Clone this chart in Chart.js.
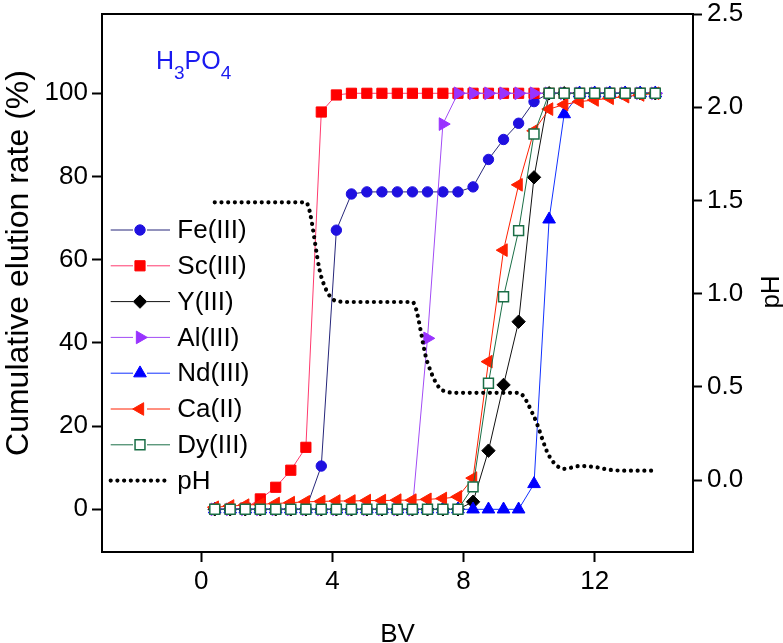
<!DOCTYPE html>
<html><head><meta charset="utf-8">
<script src="https://cdn.jsdelivr.net/npm/chart.js@4/dist/chart.umd.min.js"></script>
<style>html,body{margin:0;padding:0;background:#fff;}canvas{display:block;}</style>
</head><body>
<canvas id="c" width="783" height="643"></canvas>
<script>
// ---- data ----
const bv = [0.41, 0.88, 1.34, 1.80, 2.27, 2.73, 3.19, 3.66, 4.12, 4.58, 5.05, 5.51, 5.98, 6.44, 6.90,
            7.37, 7.83, 8.29, 8.76, 9.22, 9.68, 10.15, 10.61, 11.07, 11.54, 12.00, 12.46, 12.93, 13.39, 13.85];
const feIII = [0, 0, 0, 0, 0, 0, 0, 10.4, 67.1, 75.8, 76.3, 76.3, 76.3, 76.3, 76.3,
               76.3, 76.3, 77.5, 84.1, 88.9, 92.8, 98.0, 100, 100, 100, 100, 100, 100, 100, 100];
const scIII = [0, 0, 0.3, 2.5, 5.3, 9.4, 14.9, 95.5, 99.6, 100, 100, 100, 100, 100, 100,
               100, 100, 100, 100, 100, 100, 100, 100, 100, 100, 100, 100, 100, 100, 100];
const yIII  = [0, 0, 0, 0, 0, 0, 0, 0, 0, 0, 0, 0, 0, 0, 0,
               0, 0, 1.8, 14.1, 29.9, 45.1, 79.8, 100, 100, 100, 100, 100, 100, 100, 100];
const alIII = [0, 0, 0, 0, 0, 0, 0, 0, 0, 0, 0, 0, 0, 0, 41.1,
               92.6, 100, 100, 100, 100, 100, 100, 100, 100, 100, 100, 100, 100, 100, 100];
const ndIII = [0, 0, 0, 0, 0, 0, 0, 0, 0, 0, 0, 0, 0, 0, 0,
               0, 0, 0, 0, 0, 0, 6.1, 69.7, 95.0, 100, 100, 100, 100, 100, 100];
const caII  = [0.5, 0.8, 1.0, 1.2, 1.4, 1.6, 1.8, 1.9, 2.0, 2.0, 2.1, 2.1, 2.2, 2.2, 2.4,
               2.6, 3.0, 7.5, 35.5, 62.3, 78.0, 91.0, 96.2, 97.3, 98.0, 98.4, 98.8, 99.2, 99.6, 100];
const dyIII = [0, 0, 0, 0, 0, 0, 0, 0, 0, 0, 0, 0, 0, 0, 0,
               0, 0, 5.4, 30.3, 51.1, 67.0, 90.2, 100, 100, 100, 100, 100, 100, 100, 100];
const pH    = [1.49, 1.49, 1.49, 1.49, 1.49, 1.49, 1.49, 1.09, 0.96, 0.955, 0.955, 0.955, 0.955, 0.955, 0.63,
               0.48, 0.468, 0.468, 0.468, 0.468, 0.468, 0.34, 0.13, 0.06, 0.075, 0.07, 0.055, 0.05, 0.05, 0.05];
const bvTicks = [0, 4, 8, 12];
const rateTicks = [0, 20, 40, 60, 80, 100];
const pHTicks = [0.0, 0.5, 1.0, 1.5, 2.0, 2.5];
const seriesLabels = ['Fe(III)', 'Sc(III)', 'Y(III)', 'Al(III)', 'Nd(III)', 'Ca(II)', 'Dy(III)', 'pH'];

const FONT = "'Liberation Sans', Arial, sans-serif";
const pts = vals => vals.map((v, i) => ({x: bv[i], y: v}));

function metal(label, vals, mark, line, style, radius, rotation, fill, order) {
  return {
    label, data: pts(vals), yAxisID: 'y', order,
    borderColor: line, borderWidth: 1, tension: 0,
    pointStyle: style, pointRadius: radius, pointRotation: rotation,
    pointBackgroundColor: fill || mark, pointBorderColor: mark, pointBorderWidth: fill ? 1.5 : 1,
    pointHoverRadius: radius
  };
}

const datasets = [
  metal(seriesLabels[0], feIII, '#1f10e0', '#26267a', 'circle', 5.2, 0, null, 7),
  metal(seriesLabels[1], scIII, '#ff0000', '#ff3a6e', 'rect', 7.2, 0, null, 6),
  metal(seriesLabels[2], yIII,  '#000000', '#111111', 'rectRot', 6.7, 0, null, 5),
  metal(seriesLabels[3], alIII, '#9933ff', '#a24cf5', 'triangle', 7.3, 90, null, 4),
  metal(seriesLabels[4], ndIII, '#0000ff', '#1030ff', 'triangle', 7.3, 0, null, 3),
  metal(seriesLabels[5], caII,  '#ff2000', '#ff2000', 'triangle', 7.3, -90, null, 2),
  metal(seriesLabels[6], dyIII, '#1a6e46', '#1a6e46', 'rect', 7.0, 0, '#ffffff', 1),
  {
    label: seriesLabels[7], data: pts(pH), yAxisID: 'y2', order: 0,
    borderColor: '#000', borderWidth: 4.2, borderDash: [0.01, 6.7], borderCapStyle: 'round',
    cubicInterpolationMode: 'monotone', pointRadius: 0, pointHoverRadius: 0
  }
];

const tickGrid = (len) => ({display: true, drawOnChartArea: false, drawTicks: true, tickLength: len, tickWidth: 2, tickColor: '#000', color: '#000'});
const noPad = s => { s.paddingTop = 0; s.paddingBottom = 0; s.paddingLeft = 0; s.paddingRight = 0; };

const deco = {
  id: 'deco',
  beforeDatasetsDraw(chart) {
    const {ctx, chartArea: a} = chart;
    ctx.save();
    ctx.strokeStyle = '#000'; ctx.lineWidth = 2;
    ctx.strokeRect(a.left, a.top, a.right - a.left, a.bottom - a.top);
    ctx.restore();
  },
  afterDraw(chart) {
    const {ctx, chartArea: a} = chart;
    ctx.save();
    // legend
    const x0 = a.left + 8.7, mx = a.left + 38, x1 = a.left + 68, tx = a.left + 75.3;
    chart.data.datasets.forEach((ds, i) => {
      const y = a.top + 216 + i * 35.8;
      ctx.save();
      ctx.strokeStyle = ds.borderColor; ctx.lineWidth = ds.borderWidth;
      if (ds.borderDash) {
        ctx.lineWidth = 4.2; ctx.lineCap = 'round'; ctx.setLineDash(ds.borderDash);
        ctx.beginPath(); ctx.moveTo(x0, y); ctx.lineTo(x1 - 2, y); ctx.stroke();
      } else {
        ctx.lineWidth = 1;
        ctx.beginPath(); ctx.moveTo(x0, y); ctx.lineTo(mx - 7, y);
        ctx.moveTo(mx + 7, y); ctx.lineTo(x1, y); ctx.stroke();
        ctx.fillStyle = ds.pointBackgroundColor; ctx.strokeStyle = ds.pointBorderColor;
        ctx.lineWidth = ds.pointBorderWidth;
        Chart.helpers.drawPoint(ctx, {pointStyle: ds.pointStyle, radius: ds.pointRadius, rotation: ds.pointRotation, borderWidth: ds.pointBorderWidth}, mx, y);
      }
      ctx.restore();
      ctx.fillStyle = '#000'; ctx.font = '26px ' + FONT; ctx.textBaseline = 'middle'; ctx.textAlign = 'left';
      ctx.fillText(ds.label, tx, y + 1);
    });
    // left axis title
    ctx.save();
    ctx.translate(19, 263);
    ctx.rotate(-Math.PI / 2);
    ctx.fillStyle = '#000'; ctx.font = '32px ' + FONT; ctx.textAlign = 'center'; ctx.textBaseline = 'middle';
    ctx.fillText('Cumulative elution rate (%)', 0, 0);
    ctx.restore();
    // right axis title, rotated like the left one
    ctx.save();
    ctx.translate(772, 292);
    ctx.rotate(-Math.PI / 2);
    ctx.fillStyle = '#000'; ctx.font = '26px ' + FONT; ctx.textAlign = 'center'; ctx.textBaseline = 'middle';
    ctx.fillText('pH', 0, 0);
    ctx.restore();
    // H3PO4 label
    const parts = [['H', 0], ['3', 1], ['PO', 0], ['4', 1]];
    let x = a.left + 54;
    const base = a.top + 55;
    ctx.fillStyle = '#1a1af0'; ctx.textAlign = 'left'; ctx.textBaseline = 'alphabetic';
    parts.forEach(([t, sub]) => {
      ctx.font = (sub ? '19px ' : '25px ') + FONT;
      ctx.fillText(t, x, sub ? base + 10 : base);
      x += ctx.measureText(t).width;
    });
    ctx.restore();
  }
};

new Chart(document.getElementById('c'), {
  type: 'line',
  data: {datasets},
  plugins: [deco],
  options: {
    responsive: false, animation: false, devicePixelRatio: 1,
    layout: {padding: {top: 14, left: 0, right: 0, bottom: 0}},
    plugins: {legend: {display: false}, tooltip: {enabled: false}},
    scales: {
      x: {
        type: 'linear', position: 'bottom', min: -3.03, max: 15,
        afterBuildTicks: s => { s.ticks = bvTicks.map(v => ({value: v})); },
        afterFit: s => { s.height = 91; noPad(s); },
        grid: tickGrid(10), border: {display: false},
        ticks: {font: {family: FONT, size: 26}, color: '#000', padding: 4, maxRotation: 0},
        title: {display: true, text: 'BV', color: '#000', font: {family: FONT, size: 26, lineHeight: 0.6}, padding: 0}
      },
      y: {
        type: 'linear', position: 'left', min: -10.26, max: 119.06,
        afterBuildTicks: s => { s.ticks = rateTicks.map(v => ({value: v})); },
        afterFit: s => { s.width = 102; noPad(s); },
        grid: tickGrid(10), border: {display: false},
        ticks: {font: {family: FONT, size: 26}, color: '#000', padding: 4}
      },
      y2: {
        type: 'linear', position: 'right', min: -0.386, max: 2.5,
        afterBuildTicks: s => { s.ticks = pHTicks.map(v => ({value: v})); },
        afterFit: s => { s.width = 90; noPad(s); },
        grid: tickGrid(9), border: {display: false},
        ticks: {font: {family: FONT, size: 26}, color: '#000', padding: 5, callback: v => Number(v).toFixed(1)}
      }
    }
  }
});
</script>
</body></html>
